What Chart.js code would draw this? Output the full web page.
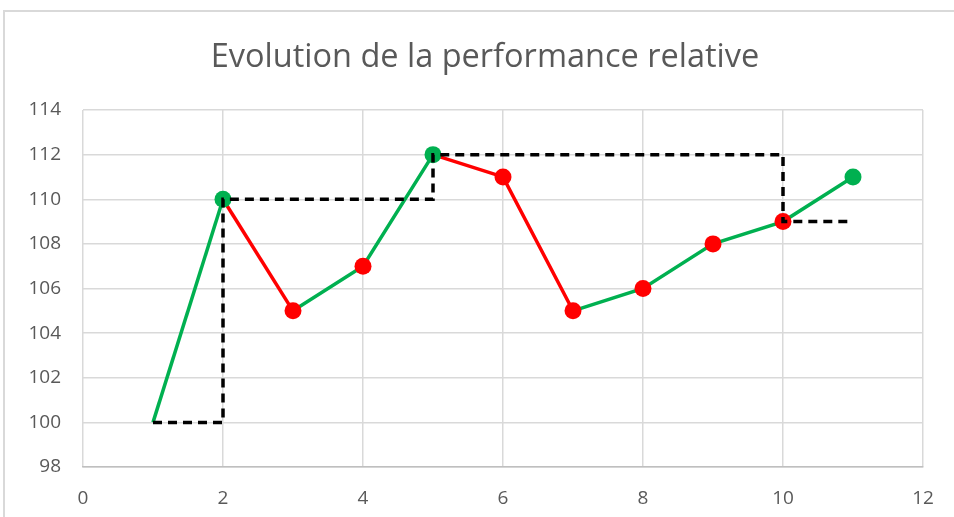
<!DOCTYPE html>
<html lang="fr">
<head>
  <meta charset="UTF-8">
  <title>Evolution de la performance relative</title>
  <script src="https://cdn.jsdelivr.net/npm/chart.js"></script>
  <style>
    body {
      margin: 0;
      background: #fff;
      overflow: hidden;
    }
    #frame {
      position: absolute;
      left: 3px;
      top: 10px;
      width: 960px;
      height: 520px;
      border-left: 2px solid #d9d9d9;
      border-top: 2px solid #d9d9d9;
    }
    #wrap {
      position: absolute;
      left: 0;
      top: 0;
      width: 949px;
      height: 505px;
    }
  </style>
</head>
<body>
  <div id="frame">
    <div id="wrap"><canvas id="perfChart"></canvas></div>
  </div>

  <script>
    // performance relative (x = période, y = indice)
    const xValues = [1, 2, 3, 4, 5, 6, 7, 8, 9, 10, 11];
    const perf = [100, 110, 105, 107, 112, 111, 105, 106, 108, 109, 111];
    // couleur du marqueur : vert = nouveau plus haut, rouge sinon
    const markerColors = ['#00B050', '#00B050', '#FF0000', '#FF0000', '#00B050', '#FF0000',
                          '#FF0000', '#FF0000', '#FF0000', '#FF0000', '#00B050'];
    const markerSizes = [0, 8.5, 8.5, 8.5, 8.5, 8.5, 8.5, 8.5, 8.5, 8.5, 8.5];
    // ligne de référence en escalier (pointillés)
    const refX = [1, 2, 2, 5, 5, 10, 10, 11];
    const refY = [100, 100, 110, 110, 112, 112, 109, 109];

    const GREEN = '#00B050';
    const RED = '#FF0000';
    const FONT = 'Open Sans';

    // décale un peu le titre vers la droite, comme dans Excel
    const titleShift = {
      id: 'titleShift',
      afterLayout(chart) {
        if (chart.titleBlock) chart.titleBlock.left += 42;
      }
    };

    const ctx = document.getElementById('perfChart').getContext('2d');
    new Chart(ctx, {
      type: 'scatter',
      data: {
        datasets: [
          {
            label: 'Référence',
            data: refX.map((x, i) => ({ x: x, y: refY[i] })),
            showLine: true,
            borderColor: '#000',
            borderWidth: 3.5,
            borderDash: [9, 6],
            pointRadius: 0,
            fill: false
          },
          {
            label: 'Performance',
            data: xValues.map((x, i) => ({ x: x, y: perf[i] })),
            showLine: true,
            borderWidth: 3.5,
            borderColor: GREEN,
            segment: {
              borderColor: c => c.p1.parsed.y >= c.p0.parsed.y ? GREEN : RED
            },
            pointRadius: markerSizes,
            pointHoverRadius: markerSizes,
            pointBackgroundColor: markerColors,
            pointBorderColor: markerColors,
            pointBorderWidth: 0,
            fill: false
          }
        ]
      },
      plugins: [titleShift],
      options: {
        responsive: true,
        maintainAspectRatio: false,
        animation: false,
        layout: {
          padding: { left: 0, right: 31, top: 0, bottom: 10 }
        },
        plugins: {
          legend: { display: false },
          tooltip: { enabled: false },
          title: {
            display: true,
            text: 'Evolution de la performance relative',
            color: '#595959',
            font: { family: FONT, size: 32.5, weight: 'normal', lineHeight: 1.2 },
            padding: { top: 26, bottom: 33 }
          }
        },
        scales: {
          x: {
            type: 'linear',
            min: 0,
            max: 12,
            afterFit: s => { s.height = 40; },
            ticks: {
              stepSize: 2,
              color: '#595959',
              font: { family: FONT, size: 19 },
              padding: 20
            },
            grid: { color: '#d9d9d9', lineWidth: 1.5, drawTicks: false },
            border: { color: '#bfbfbf', width: 1.5 }
          },
          y: {
            min: 98,
            max: 114,
            afterFit: s => { s.width = 78; },
            ticks: {
              stepSize: 2,
              color: '#595959',
              font: { family: FONT, size: 19 },
              padding: 22
            },
            grid: { color: '#d9d9d9', lineWidth: 1.5, drawTicks: false },
            border: { display: false }
          }
        }
      }
    });
  </script>
</body>
</html>
